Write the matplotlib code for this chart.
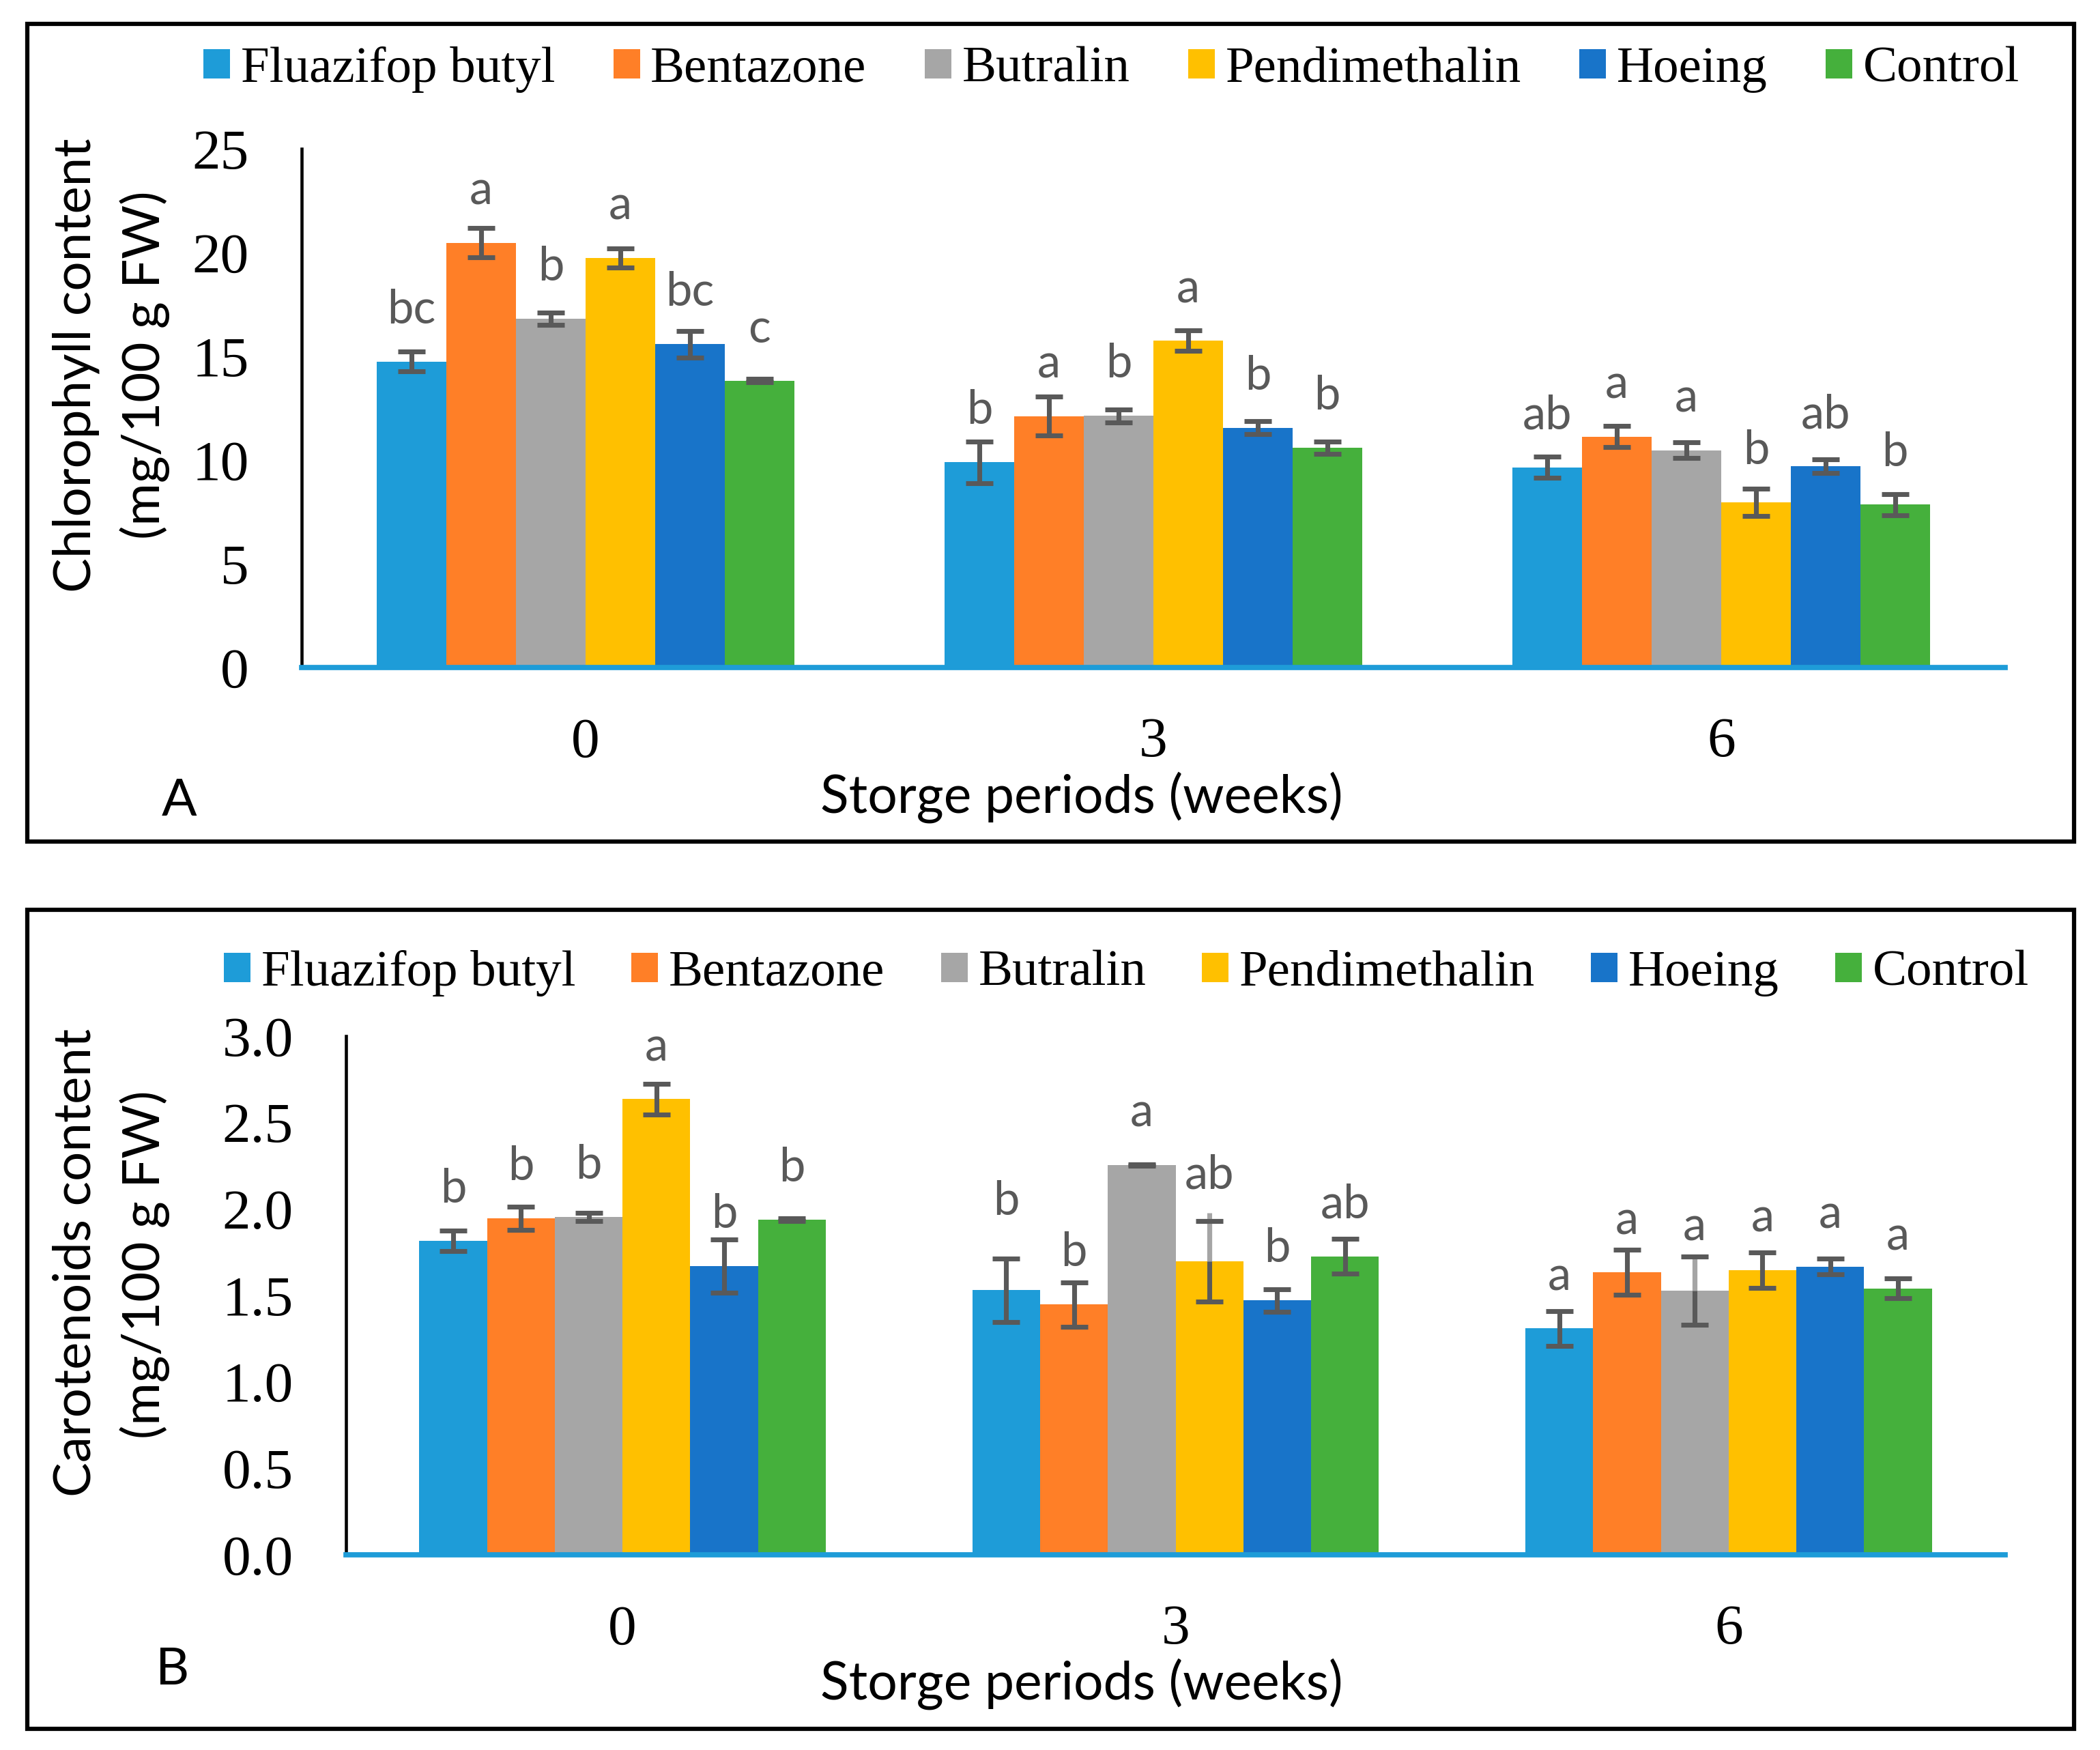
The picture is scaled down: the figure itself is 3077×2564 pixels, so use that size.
import matplotlib
matplotlib.use('Agg')
import matplotlib.pyplot as plt
from matplotlib.patches import Patch, Rectangle
import numpy as np

# ---------------- data ----------------
treatments = ['Fluazifop butyl', 'Bentazone', 'Butralin', 'Pendimethalin', 'Hoeing', 'Control']
periods = ['0', '3', '6']

# Chlorophyll content (mg/100 g FW), rows = treatments, columns = periods 0, 3, 6
chl_means = [
    [14.75, 9.89, 9.65],   # Fluazifop butyl
    [20.47, 12.12, 11.13], # Bentazone
    [16.80, 12.13, 10.47], # Butralin
    [19.74, 15.75, 7.95],  # Pendimethalin
    [15.59, 11.56, 9.69],  # Hoeing
    [13.83, 10.59, 7.85],  # Control
]
chl_errors = [
    [0.48, 1.01, 0.52],
    [0.70, 0.94, 0.51],
    [0.29, 0.32, 0.37],
    [0.45, 0.49, 0.66],
    [0.64, 0.31, 0.33],
    [0.08, 0.31, 0.52],
]
chl_letters = [
    ['bc', 'b', 'ab'],
    ['a', 'a', 'a'],
    ['b', 'b', 'a'],
    ['a', 'a', 'b'],
    ['bc', 'b', 'ab'],
    ['c', 'b', 'b'],
]

# Carotenoids content (mg/100 g FW)
car_means = [
    [1.815, 1.530, 1.308],
    [1.946, 1.446, 1.633],
    [1.954, 2.253, 1.528],
    [2.635, 1.697, 1.646],
    [1.669, 1.470, 1.666],
    [1.937, 1.726, 1.540],
]
car_errors = [
    [0.058, 0.184, 0.099],
    [0.067, 0.127, 0.130],
    [0.024, 0.005, 0.198],
    [0.089, 0.232, 0.103],
    [0.154, 0.065, 0.046],
    [0.008, 0.102, 0.058],
]
car_letters = [
    ['b', 'b', 'a'],
    ['b', 'b', 'a'],
    ['b', 'a', 'a'],
    ['a', 'ab', 'a'],
    ['b', 'b', 'a'],
    ['b', 'ab', 'a'],
]

chl_ticks = [0, 5, 10, 15, 20, 25]
car_ticks = [0.0, 0.5, 1.0, 1.5, 2.0, 2.5, 3.0]

# ---------------- style ----------------
colors = ['#1E9CD8', '#FF7F27', '#A6A6A6', '#FFC000', '#1874C9', '#45B03C']
AXIS_BLUE = '#1E9CD8'
ERR_GREY = '#595959'
ERR_LIGHT = '#A5A5A5'
LETTER_GREY = '#595959'
SERIF = 'Liberation Serif'
SANS = 'Lato'

W, H = 3077, 2564
DPI = 300
PX2PT = 72.0 / DPI

def fx(v):
    return v / W

def fy(v):
    return 1 - v / H

fig = plt.figure(figsize=(W / DPI, H / DPI), dpi=DPI)
renderer = fig.canvas.get_renderer()

def fit_size(text, target_px, base=20, family=SANS):
    t = fig.text(0, 0, text, fontsize=base, family=family)
    w = t.get_window_extent(renderer).width
    t.remove()
    return base * target_px / w

ylab_fs = fit_size('Chlorophyll content', 667)
xlab_fs = fit_size('Storge periods (weeks)', 767)
letter_fs = ylab_fs * 0.9

BAR_W = 0.1225
LETTER_LIFT_PX = 56
# extra lift (px) for letters that were moved up in the original
extra_lift = {('B', 1, 0): 54, ('B', 1, 3): 50, ('B', 2, 2): 17}
# error-bar segments above the bar drawn in a lighter grey in the original:
# (panel, period, treatment) -> extra length (px) of the light line beyond the cap
light_err = {('B', 1, 3): 12, ('B', 2, 2): 0}

def draw_panel(tag, rect_px, means, errors, letters, ticks, fmt, ymax):
    left, top, right, bottom = rect_px
    ax = fig.add_axes([fx(left), fy(bottom), (right - left) / W, (bottom - top) / H])
    x = np.arange(len(periods))
    unit_px = (bottom - top) / ymax
    for i, name in enumerate(treatments):
        xs = x + (i - 2.5) * BAR_W
        ax.bar(xs, means[i], BAR_W, color=colors[i], linewidth=0, zorder=2, label=name)
        ax.errorbar(xs, means[i], yerr=errors[i], fmt='none', ecolor=ERR_GREY,
                    elinewidth=1.7, capsize=4.7, capthick=1.7, zorder=3)
        for j in range(len(periods)):
            key = (tag, j, i)
            if key in light_err:
                m, e = means[i][j], errors[i][j]
                ext = light_err[key] / unit_px
                ax.vlines(xs[j], m, m + e + ext, colors=ERR_LIGHT, linewidth=1.7, zorder=3.5)
                ax.hlines(m + e, xs[j] - BAR_W * 0.19, xs[j] + BAR_W * 0.19,
                          colors=ERR_GREY, linewidth=1.7, zorder=3.6)
            lift = LETTER_LIFT_PX + extra_lift.get(key, 0)
            ax.annotate(letters[i][j], (xs[j], means[i][j]), xytext=(0, lift * PX2PT),
                        textcoords='offset points', ha='center', va='baseline',
                        color=LETTER_GREY, fontsize=letter_fs, family=SANS, zorder=4)
    ax.set_xlim(-0.5, len(periods) - 0.5)
    ax.set_ylim(0, ymax)
    ax.set_yticks(ticks)
    ax.set_yticklabels([fmt.format(t) for t in ticks], family=SERIF, fontsize=20)
    ax.set_xticks(x)
    ax.set_xticklabels(periods, family=SERIF, fontsize=20)
    ax.tick_params(axis='y', length=0, pad=18.5)
    ax.tick_params(axis='x', length=0, pad=17.5)
    for s in ('top', 'right'):
        ax.spines[s].set_visible(False)
    ax.spines['left'].set_color('black')
    ax.spines['left'].set_linewidth(1.1)
    ax.spines['bottom'].set_color(AXIS_BLUE)
    ax.spines['bottom'].set_linewidth(1.85)
    ax.patch.set_alpha(0)
    return ax

axA = draw_panel('A', (442, 218, 2938, 978), chl_means, chl_errors, chl_letters,
                 chl_ticks, '{:d}', 25)
axB = draw_panel('B', (507, 1517.6, 2938, 2278), car_means, car_errors, car_letters,
                 car_ticks, '{:.1f}', 3.0)

handles = [Patch(facecolor=c, edgecolor='none') for c in colors]

def make_legend(x_left, y_center, target_w):
    cs = 1.0
    kw = dict(ncol=6, loc='center left', frameon=False,
              prop={'family': SERIF, 'size': 18}, handlelength=0.52,
              handleheight=0.51, handletextpad=0.21, borderpad=0, borderaxespad=0)
    for _ in range(3):
        leg = fig.legend(handles, treatments, bbox_to_anchor=(fx(x_left), fy(y_center)),
                         columnspacing=cs, **kw)
        fig.canvas.draw()
        w = leg.get_window_extent(renderer).width
        fs_px = 18 / PX2PT
        cs = cs + (target_w - w) / (5 * fs_px)
        leg.remove()
    return fig.legend(handles, treatments, bbox_to_anchor=(fx(x_left), fy(y_center)),
                      columnspacing=cs, **kw)

make_legend(298, 102, 2661)
make_legend(328, 1426, 2645)

# y-axis titles
for (cx, cy, txt) in [(111, 535, 'Chlorophyll content'), (212, 535, '(mg/100 g FW)'),
                      (111, 1850, 'Carotenoids content'), (212, 1853, '(mg/100 g FW)')]:
    fig.text(fx(cx), fy(cy), txt, rotation=90, ha='center', va='center',
             fontsize=ylab_fs, family=SANS, color='black')

# x-axis titles and panel letters
fig.text(fx(1585), fy(1191), 'Storge periods (weeks)', ha='center', va='baseline',
         fontsize=xlab_fs, family=SANS)
fig.text(fx(1585), fy(2490), 'Storge periods (weeks)', ha='center', va='baseline',
         fontsize=xlab_fs, family=SANS)
fig.text(fx(263), fy(1195), 'A', ha='center', va='baseline', fontsize=ylab_fs, family=SANS)
fig.text(fx(253), fy(2468), 'B', ha='center', va='baseline', fontsize=ylab_fs, family=SANS)

# panel frames
for (t, b) in [(35, 1233), (1333, 2533)]:
    fig.add_artist(Rectangle((fx(40), fy(b)), (3039 - 40) / W, (b - t) / H,
                             transform=fig.transFigure, fill=False, lw=1.5,
                             ec='black'))

fig.savefig('out.png', dpi=DPI)
